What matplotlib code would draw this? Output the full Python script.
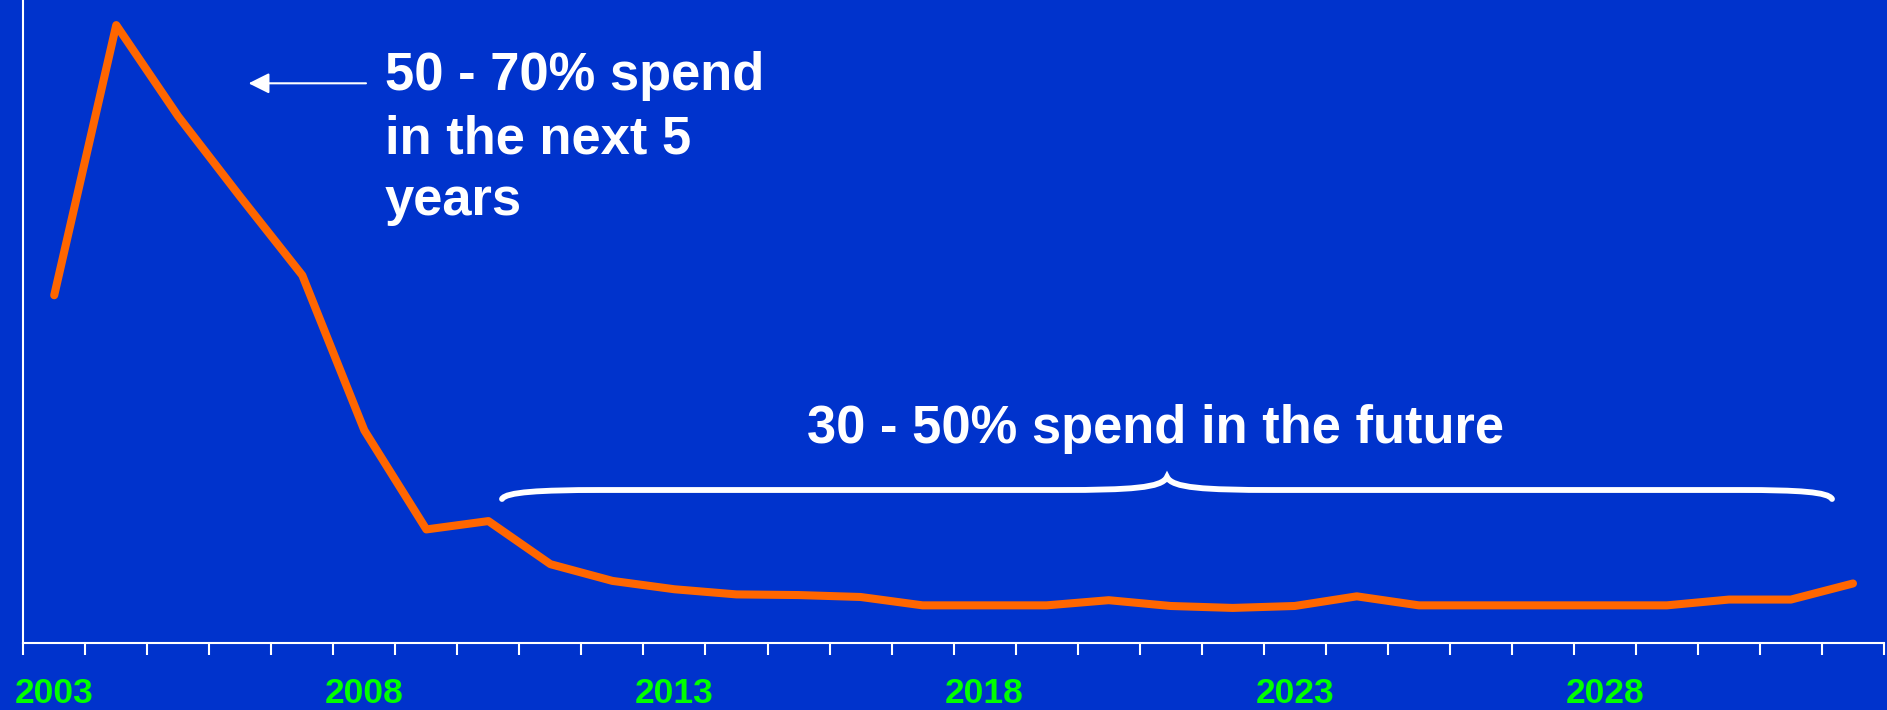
import matplotlib
matplotlib.use("Agg")
import matplotlib.pyplot as plt
from matplotlib.path import Path
from matplotlib.patches import PathPatch, FancyArrowPatch

years = [2003, 2004, 2005, 2006, 2007, 2008, 2009, 2010, 2011, 2012,
         2013, 2014, 2015, 2016, 2017, 2018, 2019, 2020, 2021, 2022,
         2023, 2024, 2025, 2026, 2027, 2028, 2029, 2030, 2031, 2032]
spend = [54.1, 96.1, 81.9, 69.4, 57.2, 33.1, 17.7, 19.0, 12.3, 9.7,
         8.4, 7.6, 7.5, 7.2, 5.9, 5.9, 5.9, 6.7, 5.8, 5.5,
         5.8, 7.3, 5.9, 5.9, 5.9, 5.9, 5.9, 6.8, 6.8, 9.3]
label_years = ["2003", "2008", "2013", "2018", "2023", "2028"]
note_near = ["50 - 70% spend", "in the next 5", "years"]
note_future = "30 - 50% spend in the future"

BG = "#0033CC"
ORANGE = "#FF6600"
GREEN = "#00FF00"
FONT = ["Liberation Sans", "DejaVu Sans"]

W, H = 1887, 710
fig = plt.figure(figsize=(W / 100, H / 100), dpi=100, facecolor=BG)

left_px, right_px, bottom_px = 23.2, 1884.0, 643.3
ax = fig.add_axes([left_px / W, (H - bottom_px) / H,
                   (right_px - left_px) / W, bottom_px / H])
ax.set_facecolor(BG)

xs = list(range(len(years)))
ax.plot(xs, spend, color=ORANGE, lw=5.8, solid_joinstyle="round",
        solid_capstyle="round", zorder=3)
ax.set_xlim(-0.5, len(years) - 0.5)
ax.set_ylim(0, 100)

for s in ["top", "right"]:
    ax.spines[s].set_visible(False)
for s in ["left", "bottom"]:
    ax.spines[s].set_color("white")
    ax.spines[s].set_linewidth(1.5)

ax.set_yticks([])
# boundary ticks between categories
ax.set_xticks([i - 0.5 for i in range(len(years) + 1)])
ax.set_xticklabels([])
ax.tick_params(axis="x", which="major", direction="out", length=8.6,
               width=1.5, color="white")
# labels at category centres
lab_pos = [years.index(int(y)) for y in label_years]
ax.set_xticks(lab_pos, minor=True)
ax.set_xticklabels(label_years, minor=True)
ax.tick_params(axis="x", which="minor", length=0, pad=24.5,
               labelcolor=GREEN, labelsize=25.5)
for t in ax.get_xticklabels(minor=True):
    t.set_fontweight("bold")
    t.set_family(FONT)

# overlay in pixel coordinates for annotations
ov = fig.add_axes([0, 0, 1, 1], facecolor="none")
ov.set_xlim(0, W)
ov.set_ylim(H, 0)
ov.axis("off")

base = [90, 153.3, 215]
for line, yb in zip(note_near, base):
    ov.text(385, yb, line, color="white", fontsize=37.8, fontweight="bold",
            family=FONT, ha="left", va="baseline")

ov.text(807, 443.3, note_future, color="white", fontsize=37.8,
        fontweight="bold", family=FONT, ha="left", va="baseline")

arrow = FancyArrowPatch((366, 83.3), (248.6, 83.3),
                        arrowstyle="-|>,head_length=0.9,head_width=0.45",
                        mutation_scale=14, color="white", lw=1.5,
                        shrinkA=0, shrinkB=0)
ov.add_patch(arrow)

verts = [(502, 499), (506, 492), (540, 490), (600, 490),
         (1060, 490),
         (1130, 490), (1162, 488), (1167, 477),
         (1172, 488), (1204, 490), (1274, 490),
         (1740, 490),
         (1800, 490), (1828, 492), (1832, 499)]
codes = [Path.MOVETO, Path.CURVE4, Path.CURVE4, Path.CURVE4,
         Path.LINETO,
         Path.CURVE4, Path.CURVE4, Path.CURVE4,
         Path.CURVE4, Path.CURVE4, Path.CURVE4,
         Path.LINETO,
         Path.CURVE4, Path.CURVE4, Path.CURVE4]
ov.add_patch(PathPatch(Path(verts, codes), facecolor="none", edgecolor="white",
                       lw=4.2, capstyle="round"))

fig.savefig("out.png", dpi=100, facecolor=BG)
